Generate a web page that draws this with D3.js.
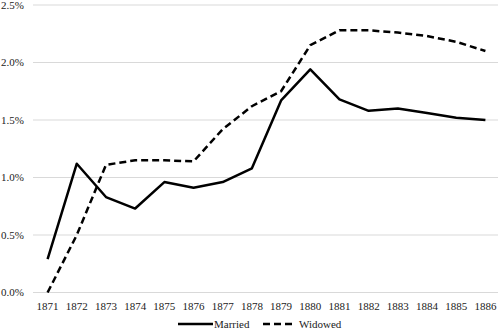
<!DOCTYPE html>
<html>
<head>
<meta charset="utf-8">
<script src="https://cdn.jsdelivr.net/npm/d3@7"></script>
<style>
  body { margin: 0; background: #fff; }
</style>
</head>
<body>
<script>
const years = ["1871", "1872", "1873", "1874", "1875", "1876", "1877", "1878",
  "1879", "1880", "1881", "1882", "1883", "1884", "1885", "1886"];
const married = [0.0029, 0.0112, 0.0083, 0.0073, 0.0096, 0.0091, 0.0096, 0.0108,
  0.0167, 0.0194, 0.0168, 0.0158, 0.0160, 0.0156, 0.0152, 0.0150];
const widowed = [0.0000, 0.0050, 0.0111, 0.0115, 0.0115, 0.0114, 0.0142, 0.0162,
  0.0175, 0.0215, 0.0228, 0.0228, 0.0226, 0.0223, 0.0218, 0.0210];
const yTicks = [0, 0.005, 0.01, 0.015, 0.02, 0.025];

let width = 500, height = 335;
let margin = { top: 5, right: 0, bottom: 42.5, left: 33 };
let font = "'Liberation Serif', 'Times New Roman', serif";

let svg = d3.select("body").append("svg")
  .attr("width", width)
  .attr("height", height)
  .attr("font-family", font)
  .attr("font-size", 11);

let x = d3.scaleBand()
  .domain(years)
  .range([margin.left, width - margin.right]);

let y = d3.scaleLinear()
  .domain([0, 0.025])
  .range([height - margin.bottom, margin.top]);

// gridlines
svg.append("g")
  .selectAll("line")
  .data(yTicks)
  .join("line")
  .attr("x1", margin.left)
  .attr("x2", width - 2)
  .attr("y1", (d) => y(d))
  .attr("y2", (d) => y(d))
  .attr("stroke", "#d9d9d9")
  .attr("stroke-width", 1);

// y labels
svg.append("g")
  .selectAll("text")
  .data(yTicks)
  .join("text")
  .attr("x", 24)
  .attr("y", (d) => y(d))
  .attr("dy", "0.35em")
  .attr("text-anchor", "end")
  .attr("fill", "#222")
  .text(d3.format(".1%"));

// x labels
svg.append("g")
  .selectAll("text")
  .data(years)
  .join("text")
  .attr("x", (d) => x(d) + x.bandwidth() / 2)
  .attr("y", height - margin.bottom + 13.5)
  .attr("dy", "0.35em")
  .attr("text-anchor", "middle")
  .attr("fill", "#222")
  .text((d) => d);

let line = d3.line()
  .x((d, i) => x(years[i]) + x.bandwidth() / 2)
  .y((d) => y(d));

svg.append("path")
  .datum(married)
  .attr("fill", "none")
  .attr("stroke", "#000")
  .attr("stroke-width", 2.5)
  .attr("stroke-linejoin", "round")
  .attr("d", line);

svg.append("path")
  .datum(widowed)
  .attr("fill", "none")
  .attr("stroke", "#000")
  .attr("stroke-width", 2.5)
  .attr("stroke-dasharray", "7,4")
  .attr("d", line);

// legend
let legend = svg.append("g").attr("transform", "translate(0,324)");
legend.append("line")
  .attr("x1", 178).attr("x2", 213)
  .attr("y1", 0).attr("y2", 0)
  .attr("stroke", "#000").attr("stroke-width", 2.5);
legend.append("text")
  .attr("x", 214).attr("y", 0).attr("dy", "0.35em")
  .attr("fill", "#222")
  .text("Married");
legend.append("line")
  .attr("x1", 263).attr("x2", 293)
  .attr("y1", 0).attr("y2", 0)
  .attr("stroke", "#000").attr("stroke-width", 2.5)
  .attr("stroke-dasharray", "7,4");
legend.append("text")
  .attr("x", 299).attr("y", 0).attr("dy", "0.35em")
  .attr("fill", "#222")
  .text("Widowed");
</script>
</body>
</html>
